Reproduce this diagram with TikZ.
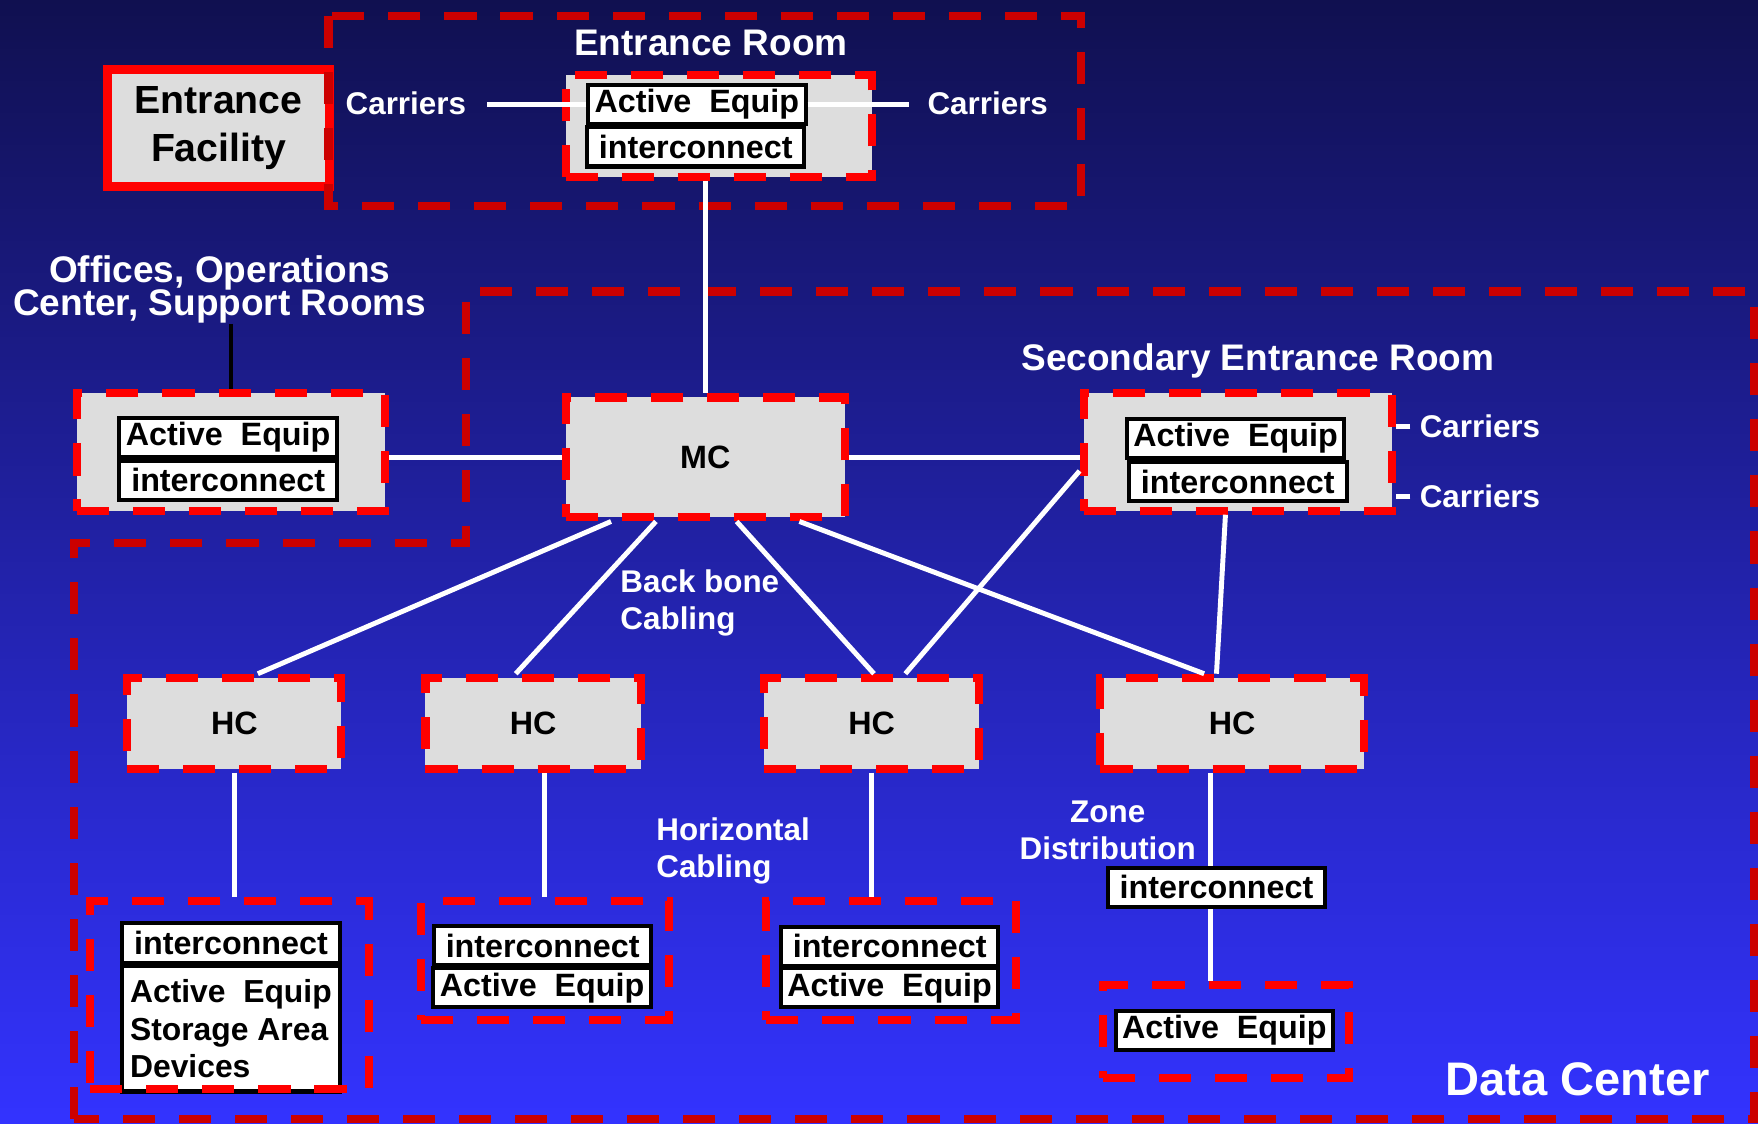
\documentclass[tikz,border=0pt]{standalone}
\usepackage{fontspec}
\setmainfont{Liberation Sans}
\definecolor{dcnavy}{RGB}{16,16,80}
\definecolor{dcblue}{RGB}{51,51,255}
\definecolor{dcred}{RGB}{204,0,0}
\definecolor{dcbright}{RGB}{255,0,0}
\definecolor{dcgray}{RGB}{221,221,221}
\usetikzlibrary{positioning,calc}

\begin{document}
\begin{tikzpicture}[x=0.5pt, y=-0.5pt,
  room/.style={draw=dcred, line width=3.6pt, dash pattern=on 14.3pt off 10.7pt},
  closet/.style={
    rectangle, fill=dcgray, draw=dcbright, line width=3.6pt,
    dash pattern=on 14.3pt off 10.7pt, inner sep=0pt,
    font=\fontsize{14.4}{16.5}\selectfont\bfseries
  },
  zonebox/.style={rectangle, draw=dcbright, line width=3.6pt, dash pattern=on 14.3pt off 10.7pt, inner sep=0pt},
  equip/.style={
    rectangle, fill=white, draw=black, line width=1.8pt,
    minimum width=97pt, minimum height=17.5pt, inner sep=0pt,
    font=\fontsize{14.4}{16.5}\selectfont\bfseries
  },
  facility/.style={
    rectangle, fill=dcgray, draw=dcbright, line width=4pt,
    minimum width=99pt, minimum height=52pt, align=center,
    font=\fontsize{17.5}{21.5}\selectfont\bfseries
  },
  roomlbl/.style={text=white, font=\fontsize{16.5}{15}\selectfont\bfseries, align=center, inner sep=0pt},
  cablelbl/.style={text=white, font=\fontsize{14}{16.5}\selectfont\bfseries, inner sep=0pt},
  cable/.style={draw=white, line width=2.2pt}
]
\shade[top color=dcnavy, bottom color=dcblue] (0,0) rectangle (1568,1002);
\useasboundingbox (0,0) rectangle (1568,1002);

\node[facility] (ef) at (195,114) {Entrance\\Facility};

\draw[room] (293,14) rectangle (964,184);
\draw[room] (66,998) -- (66,484) -- (416,484) -- (416,260) -- (1564,260) -- (1564,998) -- cycle;

\node[closet, minimum width=136.5pt, minimum height=45.5pt] (erc) at (641,112) {};
\node[equip] (erae) at (621.5,93) {Active\ \ Equip};
\node[equip] (eric) at (620.5,131) {interconnect};

\node[closet, minimum width=137.5pt, minimum height=52.5pt] (offc) at (206,403) {};
\node[equip] (offae) at (203.5,390) {Active\ \ Equip};
\node[equip] (offic) at (203.5,428.5) {interconnect};

\node[closet, minimum width=124.5pt, minimum height=53.5pt] (mc) at (629,408) {MC};

\node[closet, minimum width=137.5pt, minimum height=52.5pt] (serc) at (1104,403) {};
\node[equip] (serae) at (1102,391) {Active\ \ Equip};
\node[equip] (seric) at (1104,429.5) {interconnect};

\node[closet, minimum width=95.5pt, minimum height=40.5pt] (hc1) at (209,645) {HC};
\node[closet, minimum width=96pt, minimum height=40.5pt] (hc2) at (475.5,645) {HC};
\node[closet, minimum width=96pt, minimum height=40.5pt] (hc3) at (777.5,645) {HC};
\node[closet, minimum width=117.5pt, minimum height=40.5pt] (hc4) at (1099,645) {HC};

\node[equip] (zn1ic) at (206,841) {interconnect};
\node[equip, minimum height=56pt, text width=90pt, inner xsep=3.5pt, align=flush left,
  font=\fontsize{14.2}{16.75}\selectfont\bfseries] (zn1ae) at (206,917.5)
  {Active\ \ Equip\\Storage Area\\Devices};
\node[zonebox, minimum width=124.5pt, minimum height=84pt] (zn1) at (205,887.5) {};

\node[zonebox, minimum width=110.5pt, minimum height=53pt] (zn2) at (486,856.5) {};
\node[equip] (zn2ic) at (484,843.5) {interconnect};
\node[equip] (zn2ae) at (483.5,881) {Active\ \ Equip};

\node[zonebox, minimum width=111.5pt, minimum height=53pt] (zn3) at (795,856.5) {};
\node[equip] (zn3ic) at (793.5,844) {interconnect};
\node[equip] (zn3ae) at (793.5,881) {Active\ \ Equip};

\node[equip] (zic) at (1085,791.5) {interconnect};
\node[zonebox, minimum width=110pt, minimum height=41.5pt] (zn4) at (1093.5,920) {};
\node[equip] (zn4ae) at (1092,919) {Active\ \ Equip};

\node[roomlbl] (erlbl) at (634,38) {Entrance Room};
\node[roomlbl] (serlbl) at (1122,322) {Secondary Entrance Room};
\node[roomlbl] (offlbl) at (196,258) {Offices, Operations\\Center, Support Rooms};
\node[roomlbl, font=\fontsize{21}{24}\selectfont\bfseries] (dclbl) at (1407,963) {Data Center};
\node[cablelbl] (car1) at (362,92) {Carriers};
\node[cablelbl] (car2) at (881,92) {Carriers};
\node[cablelbl] (car3) at (1320,380) {Carriers};
\node[cablelbl] (car4) at (1320,443) {Carriers};
\node[cablelbl, align=left, anchor=west] (bblbl) at (553,538) {Back bone\\Cabling};
\node[cablelbl, align=left, anchor=west] (hzlbl) at (585,759) {Horizontal\\Cabling};
\node[cablelbl, align=center] (zdlbl) at (988,741) {Zone\\Distribution};

\draw[cable] (erae.west) -- ([xshift=9pt]car1.east |- erae.west);
\draw[cable] (erae.east) -- ([xshift=-8pt]car2.west |- erae.east);
\draw[cable] ([xshift=-4pt]car3.west) -- (serc.east |- car3.west);
\draw[cable] ([xshift=-4pt]car4.west) -- (serc.east |- car4.west);
\draw[cable] (erc.south -| mc.north) -- (mc.north);
\draw[black, line width=1.5pt] (offlbl.south -| offc.north) -- (offc.north);
\draw[cable] (offc.east |- mc.west) -- (mc.west);
\draw[cable] (mc.east) -- (mc.east -| serc.west);

\draw[cable] ([xshift=-42pt]mc.south) -- ([xshift=10.5pt]hc1.north);
\draw[cable] ([xshift=-22pt]mc.south) -- ([xshift=-7.75pt]hc2.north);
\draw[cable] ([xshift=14pt]mc.south) -- ([xshift=1pt]hc3.north);
\draw[cable] ([xshift=42pt]mc.south) -- ([xshift=-12.5pt]hc4.north);
\draw[cable] ([yshift=-8.5pt]serc.west) -- ([xshift=15pt]hc3.north);
\draw[cable] ([xshift=-5.5pt]serc.south) -- ([xshift=-7pt]hc4.north);

\draw[cable] (hc1.south) -- (hc1.south |- zn1.north);
\draw[cable] (zn2.north) -- (zn2.north |- hc2.south);
\draw[cable] (hc3.south) -- (hc3.south |- zn3.north);
\draw[cable] ([xshift=-2.5pt]zic.north) -- ([xshift=-2.5pt]zic.north |- hc4.south);
\draw[cable] ([xshift=-2.5pt]zic.south) -- ([xshift=-2.5pt]zic.south |- zn4.north);
\end{tikzpicture}
\end{document}
